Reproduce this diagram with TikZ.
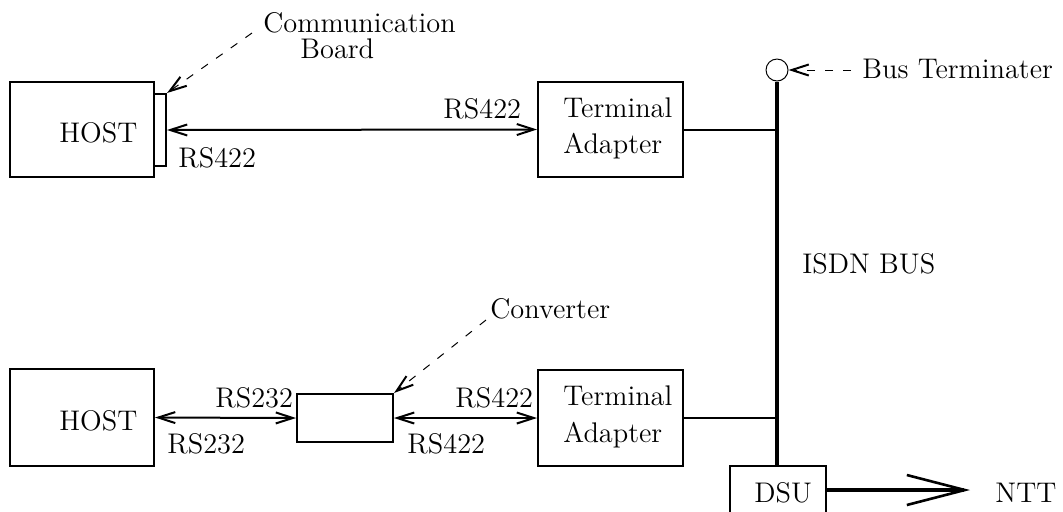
\documentclass[tikz,border=0pt]{standalone}
\usetikzlibrary{arrows.meta}
\begin{document}
\begin{tikzpicture}[x=0.5pt,y=-0.5pt,
  font=\fontsize{14.2}{17}\selectfont,
  box/.style={draw, line width=1pt, rectangle, inner sep=0pt},
  lbl/.style={inner sep=0pt, anchor=base west},
  link/.style={line width=1pt},
  bus/.style={line width=1.8pt},
  rs/.style={line width=1pt, {Straight Barb[length=8.5pt,width=5.5pt]}-{Straight Barb[length=8.5pt,width=5.5pt]}},
  ptr/.style={line width=0.5pt, dash pattern=on 4pt off 5pt, -{Straight Barb[length=8.5pt,width=5.5pt,line width=1pt]}},
  nttline/.style={line width=1.8pt, -{Straight Barb[length=29pt,width=15pt,line width=1.3pt]}}]
\useasboundingbox (0,0) rectangle (1063,511);
\clip (0,0) rectangle (1063,511);

% equipment boxes
\node[box, minimum width=72pt, minimum height=47.5pt] (host1) at (82,129.5) {};
\node[box, minimum width=6pt, minimum height=36pt] (board) at (160,130) {};
\node[box, minimum width=72.5pt, minimum height=47.5pt] (ta1) at (610.5,129.5) {};
\node[box, minimum width=72pt, minimum height=48.5pt] (host2) at (82,417.5) {};
\node[box, minimum width=48pt, minimum height=24pt] (conv) at (345,418) {};
\node[box, minimum width=72.5pt, minimum height=48pt] (ta2) at (610.5,418) {};
\node[box, minimum width=48pt, minimum height=47pt] (dsu) at (778,513) {};
\node[draw, circle, line width=0.5pt, minimum size=11pt, inner sep=0pt] (term) at (777,70) {};

% texts inside boxes
\node[lbl] (host1t) at (59,142) {HOST};
\node[lbl] (host2t) at (59,430) {HOST};
\node[lbl] (ta1a) at (563,117) {Terminal};
\node[lbl] (ta1b) at (563,153) {Adapter};
\node[lbl] (ta2a) at (563,405) {Terminal};
\node[lbl] (ta2b) at (563,442) {Adapter};
\node[lbl] (dsut) at (754,502) {DSU};

% interface labels
\node[lbl] (rsA) at (443,118) {RS422};
\node[lbl] (rsB) at (178,167) {RS422};
\node[lbl] (rsC) at (215,407) {RS232};
\node[lbl] (rsD) at (167,453) {RS232};
\node[lbl] (rsE) at (455,407) {RS422};
\node[lbl] (rsF) at (407,453) {RS422};

% callouts
\node[lbl] (commA) at (263,32) {Communication};
\node[lbl] (commB) at (300,58) {Board};
\node[lbl] (convt) at (490,318) {Converter};
\node[lbl] (termt) at (862,78) {Bus Terminater};
\node[lbl] (isdn) at (802,273) {ISDN BUS};
\node[lbl] (ntt) at (995,502) {NTT};

\coordinate (commP) at (252,33);
\coordinate (convP) at (486,320);
\coordinate (termP) at (851,70);

% ISDN bus and its taps
\coordinate (busTop) at (term.south);
\coordinate (busBot) at (term.south |- dsu.north);
\draw[bus] (busTop) -- (busBot);
\draw[link] (ta1.east) -- (ta1.east -| busTop);
\draw[link] (ta2.east) -- (ta2.east -| busTop);

% serial links
\draw[rs] (board.east) -- (ta1.west);
\draw[rs] (host2.east) -- (conv.west);
\draw[rs] (conv.east) -- (ta2.west);

% pointers
\draw[ptr] (commP) -- (board.north east);
\draw[ptr] (convP) -- (conv.north east);
\draw[ptr] (termP) -- (term.east);

% line to NTT
\coordinate (dsuOut) at (dsu.east |- 0,490);
\coordinate (nttIn) at (970,490);
\draw[nttline] (dsuOut) -- (nttIn);
\end{tikzpicture}
\end{document}
